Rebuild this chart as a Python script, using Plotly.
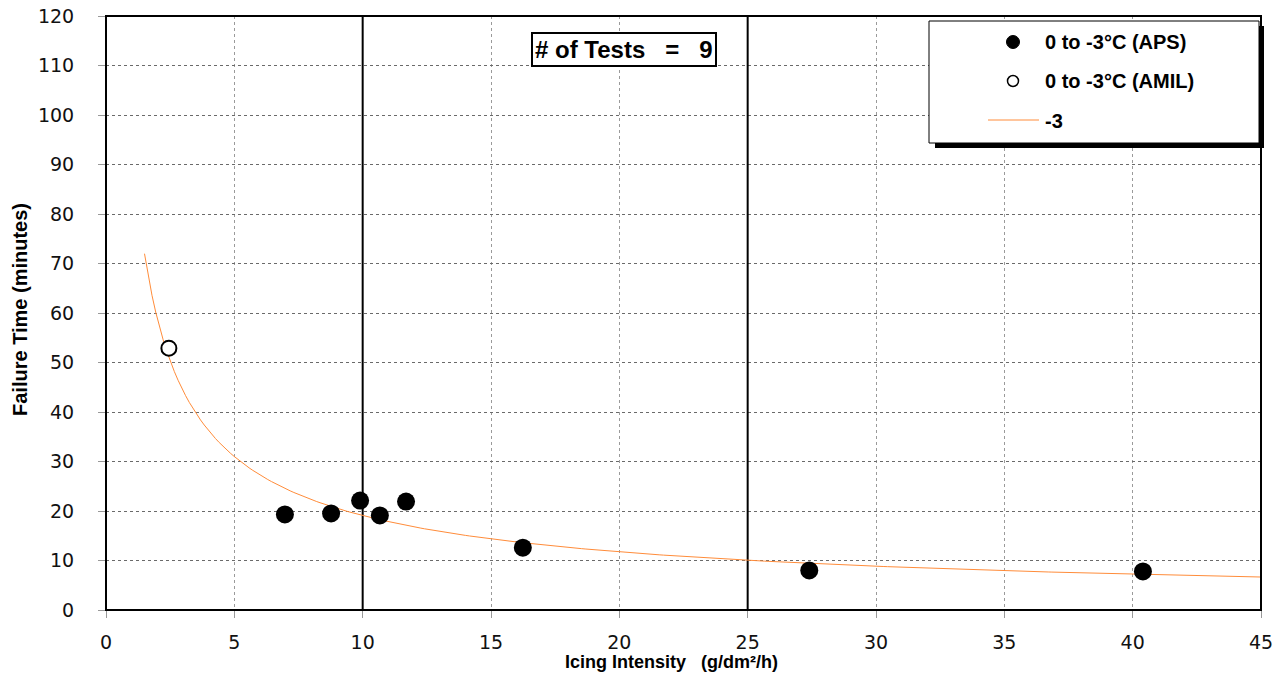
import numpy as np
import plotly.graph_objects as go

# ---- data ----
aps_x = [6.97, 8.77, 9.9, 10.67, 11.69, 16.24, 27.4, 40.4]
aps_y = [19.3, 19.5, 22.1, 19.1, 21.9, 12.6, 8.0, 7.8]
amil_x = [2.45]
amil_y = [52.9]
series_names = ["0 to -3°C (APS)", "0 to -3°C (AMIL)", "-3"]
trend_range = [1.5, 45]
ref_lines_x = [10, 25]
n_tests = 9

x_ticks = [0, 5, 10, 15, 20, 25, 30, 35, 40, 45]
y_ticks = [0, 10, 20, 30, 40, 50, 60, 70, 80, 90, 100, 110, 120]

# power trendline (least squares in log space, as a spreadsheet power trendline)
all_x = np.array(aps_x + amil_x)
all_y = np.array(aps_y + amil_y)
b, ln_a = np.polyfit(np.log(all_x), np.log(all_y), 1)
tx = np.linspace(trend_range[0], trend_range[1], 300)
ty = np.exp(ln_a) * tx ** b

# page geometry (body margin is removed in post_script)
W, H = 1286, 680
L, R, T, B = 106, 1261, 16, 610          # plot area in page pixels
PW, PH = R - L, B - T


def px(xp):
    return (xp - L) / PW


def py(yp):
    return (B - yp) / PH


ORANGE = "#FF8C3A"
TICKFONT = dict(family="DejaVu Sans", size=19, color="#111")
BOLD = "Liberation Sans"
Y0, Y1 = y_ticks[0], y_ticks[-1]

fig = go.Figure()
# heavy vertical reference lines (drawn as a trace so they sit above the grid, below markers)
vx, vy = [], []
for xv in ref_lines_x:
    vx += [xv, xv, None]
    vy += [Y0, Y1, None]
fig.add_trace(go.Scatter(x=vx, y=vy, mode="lines", line=dict(color="black", width=2),
                         showlegend=False, hoverinfo="skip"))
fig.add_trace(go.Scatter(x=tx, y=ty, mode="lines", line=dict(color=ORANGE, width=1),
                         name=series_names[2], showlegend=False, hoverinfo="skip"))
fig.add_trace(go.Scatter(x=aps_x, y=aps_y, mode="markers", name=series_names[0],
                         marker=dict(color="black", size=18, line=dict(width=0)), showlegend=False))
fig.add_trace(go.Scatter(x=amil_x, y=amil_y, mode="markers", name=series_names[1],
                         marker=dict(color="white", size=15, line=dict(color="black", width=2)),
                         showlegend=False))

shapes = []
# plot frame
shapes.append(dict(type="rect", xref="paper", yref="paper", x0=0, x1=1, y0=0, y1=1,
                   line=dict(color="black", width=2), fillcolor="rgba(0,0,0,0)", layer="above"))

# legend box with shadow
lx0, lx1, ly0, ly1 = 929, 1259, 21, 143
shapes.append(dict(type="rect", xref="paper", yref="paper",
                   x0=px(lx0 + 6), x1=px(lx1 + 5), y0=py(ly1 + 5), y1=py(ly0 + 5),
                   fillcolor="black", line=dict(width=0), layer="above"))
shapes.append(dict(type="rect", xref="paper", yref="paper",
                   x0=px(lx0), x1=px(lx1), y0=py(ly1), y1=py(ly0),
                   fillcolor="white", line=dict(color="black", width=1), layer="above"))
# legend symbols
r = 6.5
shapes.append(dict(type="circle", xref="paper", yref="paper",
                   x0=px(1013 - r), x1=px(1013 + r), y0=py(42 + r), y1=py(42 - r),
                   fillcolor="black", line=dict(color="black", width=1), layer="above"))
r2 = 5.5
shapes.append(dict(type="circle", xref="paper", yref="paper",
                   x0=px(1013 - r2), x1=px(1013 + r2), y0=py(81 + r2), y1=py(81 - r2),
                   fillcolor="white", line=dict(color="black", width=1.5), layer="above"))
shapes.append(dict(type="line", xref="paper", yref="paper",
                   x0=px(988), x1=px(1039), y0=py(120), y1=py(120),
                   line=dict(color=ORANGE, width=1), layer="above"))

LEGFONT = dict(family=BOLD, size=20, color="black")
annotations = []
for label, yy in zip(series_names, [42, 81, 121]):
    annotations.append(dict(xref="paper", yref="paper", x=px(1043), y=py(yy),
                            text="<b>" + label + "</b>", showarrow=False,
                            xanchor="left", yanchor="middle", font=LEGFONT))

# "# of Tests" box
annotations.append(dict(xref="paper", yref="paper", x=px(624), y=py(49),
                        text="<b>#\u00a0of Tests\u00a0\u00a0\u00a0=\u00a0\u00a0\u00a0" + str(n_tests) + "</b>",
                        showarrow=False, xanchor="center", yanchor="middle",
                        font=dict(family=BOLD, size=24, color="black"),
                        bgcolor="white", bordercolor="black", borderwidth=2, borderpad=2))

# axis titles
annotations.append(dict(xref="paper", yref="paper", x=px(671), y=py(662),
                        text="<b>Icing Intensity\u00a0\u00a0 (g/dm²/h)</b>", showarrow=False,
                        xanchor="center", yanchor="middle",
                        font=dict(family=BOLD, size=18, color="black")))
annotations.append(dict(xref="paper", yref="paper", x=px(20), y=py(310),
                        text="<b>Failure Time (minutes)</b>", showarrow=False, textangle=-90,
                        xanchor="center", yanchor="middle",
                        font=dict(family=BOLD, size=20, color="black")))

fig.update_layout(
    template="none",
    width=W, height=H,
    margin=dict(l=L, r=W - R, t=T, b=H - B, autoexpand=False),
    paper_bgcolor="white", plot_bgcolor="white",
    showlegend=False,
    shapes=shapes, annotations=annotations,
    xaxis=dict(range=[0, 45], tickvals=x_ticks, ticktext=[str(v) for v in x_ticks],
               showgrid=True, gridcolor="#9a9a9a", griddash="dot", gridwidth=1,
               showline=False, mirror=False,
               ticks="outside", ticklen=7, tickcolor="#999", tickwidth=1,
               ticklabelstandoff=8, ticklabeloverflow="allow", automargin=False,
               tickfont=TICKFONT, zeroline=False, fixedrange=True),
    yaxis=dict(range=[Y0, Y1], tickvals=y_ticks, ticktext=[str(v) for v in y_ticks],
               showgrid=True, gridcolor="#6a6a6a", griddash="dot", gridwidth=1,
               showline=False, mirror=False,
               ticks="outside", ticklen=7, tickcolor="#999", tickwidth=1,
               ticklabelstandoff=20, ticklabeloverflow="allow", automargin=False,
               tickfont=TICKFONT, zeroline=False, fixedrange=True),
)

fig.write_html("out.html", config={"displayModeBar": False},
               post_script="document.body.style.margin='0';")
